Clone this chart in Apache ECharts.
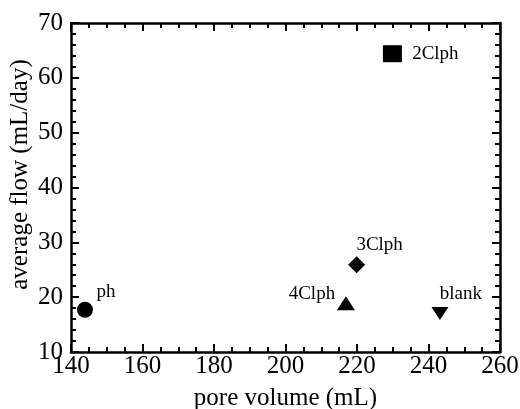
<!DOCTYPE html>
<html>
<head>
<meta charset="utf-8">
<script src="https://cdn.jsdelivr.net/npm/echarts@6/dist/echarts.min.js"></script>
<style>
  html, body { margin: 0; padding: 0; background: #fff; }
  #main { width: 520px; height: 409px; }
</style>
</head>
<body>
<div id="main"></div>
<script>
// sample names and measured values
var sampleNames = ['ph', '4Clph', '3Clph', 'blank', '2Clph'];
var poreVolume = [143.9, 216.9, 219.9, 243.2, 229.9];
var averageFlow = [17.7, 18.9, 25.9, 17.0, 64.4];

var xTicks = { min: 140, max: 260, interval: 20 };
var yTicks = { min: 10, max: 70, interval: 10 };

// marker look for each sample
var markers = {
    'ph':    { symbol: 'circle',   size: 16,       rotate: 0,   offset: [21, -18] },
    '4Clph': { symbol: 'triangle', size: [18, 14], rotate: 0,   offset: [-34, -9] },
    '3Clph': { symbol: 'diamond',  size: [17, 17], rotate: 0,   offset: [23, -20] },
    'blank': { symbol: 'triangle', size: [17, 13], rotate: 180, offset: [21, -20] },
    '2Clph': { symbol: 'rect',     size: [19, 17], rotate: 0,   offset: [43, 0] }
};

var FONT = '"Liberation Serif", "Times New Roman", serif';

function makeAxis(type, ticks, showLabel, pos, minorSplit, extra) {
    var axis = {
        type: 'value',
        position: pos,
        min: ticks.min,
        max: ticks.max,
        interval: ticks.interval,
        axisLine: { show: true, onZero: false, lineStyle: { color: '#000', width: 2.5 } },
        axisTick: { show: true, inside: true, length: 8, lineStyle: { color: '#000', width: 2 } },
        minorTick: { show: true, splitNumber: minorSplit, length: 5, lineStyle: { color: '#000', width: 2 } },
        splitLine: { show: false },
        axisLabel: {
            show: showLabel,
            color: '#000',
            fontFamily: FONT,
            fontSize: 25,
            margin: type === 'x' ? 2 : 8
        }
    };
    for (var k in extra) axis[k] = extra[k];
    return axis;
}

var chart = echarts.init(document.getElementById('main'));

var seriesData = sampleNames.map(function (name, i) {
    var m = markers[name];
    return {
        name: name,
        value: [poreVolume[i], averageFlow[i]],
        symbol: m.symbol,
        symbolSize: m.size,
        symbolRotate: m.rotate,
        label: { offset: m.offset }
    };
});

var option = {
    animation: false,
    backgroundColor: '#fff',
    grid: { left: 71, right: 20, top: 23, bottom: 57, outerBoundsMode: 'none', containLabel: false },
    xAxis: [
        makeAxis('x', xTicks, true, 'bottom', 4, {
            name: 'pore volume (mL)',
            nameLocation: 'middle',
            nameGap: 34,
            nameTextStyle: { color: '#000', fontFamily: FONT, fontSize: 25 }
        }),
        makeAxis('x', xTicks, false, 'top', 4, {})
    ],
    yAxis: [
        makeAxis('y', yTicks, true, 'left', 5, {
            name: 'average flow (mL/day)',
            nameLocation: 'middle',
            nameGap: 38,
            nameMoveOverlap: false,
            nameTextStyle: { color: '#000', fontFamily: FONT, fontSize: 25, padding: [0, 0, 0, 26] }
        }),
        makeAxis('y', yTicks, false, 'right', 5, {})
    ],
    series: [{
        type: 'scatter',
        xAxisIndex: 0,
        yAxisIndex: 0,
        itemStyle: { color: '#000', opacity: 1 },
        label: {
            show: true,
            position: 'inside',
            formatter: '{b}',
            color: '#000',
            opacity: 1,
            fontFamily: FONT,
            fontSize: 19
        },
        data: seriesData
    }]
};

chart.setOption(option);
</script>
</body>
</html>
